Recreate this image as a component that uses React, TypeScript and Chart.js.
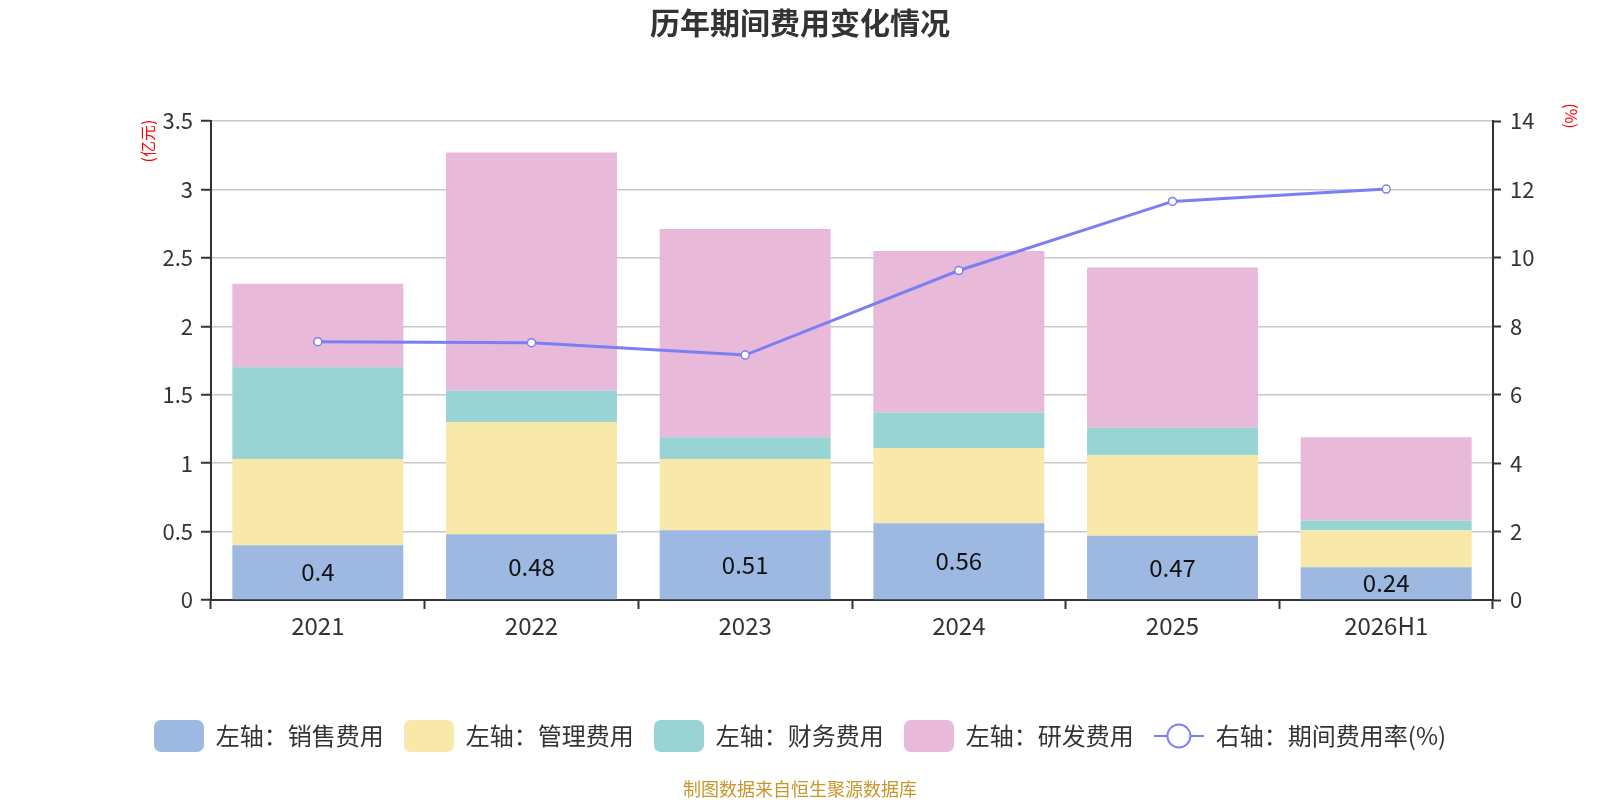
import { useEffect, useRef } from 'react'
import { Chart, registerables } from 'chart.js'

Chart.register(...registerables)

const years = ['2021', '2022', '2023', '2024', '2025', '2026H1']
const salesCost = [0.4, 0.48, 0.51, 0.56, 0.47, 0.24]
const adminCost = [0.63, 0.82, 0.52, 0.55, 0.59, 0.27]
const financeCost = [0.67, 0.23, 0.16, 0.26, 0.2, 0.07]
const rdCost = [0.61, 1.74, 1.52, 1.18, 1.17, 0.61]
const expenseRate = [7.55, 7.52, 7.16, 9.63, 11.65, 12.01]

const FONT = '"Noto Sans CJK SC", "Noto Sans", sans-serif'
const COLORS = ['#9db9e2', '#f8e8a9', '#99d4d4', '#e8b9d9']
const LINE_COLOR = '#7b7ff4'

function makeBoxIcon(color: string) {
  const c = document.createElement('canvas')
  c.width = 50
  c.height = 32
  const ctx = c.getContext('2d') as CanvasRenderingContext2D
  ctx.fillStyle = color
  ctx.beginPath()
  ctx.roundRect(0, 0, 50, 32, 7)
  ctx.fill()
  return c
}

function makeLineIcon() {
  const c = document.createElement('canvas')
  c.width = 50
  c.height = 32
  const ctx = c.getContext('2d') as CanvasRenderingContext2D
  ctx.strokeStyle = LINE_COLOR
  ctx.lineWidth = 2
  ctx.beginPath()
  ctx.moveTo(0, 16)
  ctx.lineTo(50, 16)
  ctx.stroke()
  ctx.beginPath()
  ctx.arc(25, 16, 11.5, 0, Math.PI * 2)
  ctx.fillStyle = '#fff'
  ctx.fill()
  ctx.stroke()
  return c
}

const fmt = (v: any) => parseFloat(Number(v).toFixed(2)).toString()

// 销售费用数值、坐标单位、数据来源
const extrasPlugin = {
  id: 'extras',
  afterDatasetsDraw(chart: any) {
    const ctx = chart.ctx
    const meta = chart.getDatasetMeta(0)
    ctx.save()
    ctx.font = `24px ${FONT}`
    ctx.fillStyle = '#111'
    ctx.textAlign = 'center'
    ctx.textBaseline = 'middle'
    meta.data.forEach((bar: any, i: number) => {
      ctx.fillText(String(salesCost[i]), bar.x, (bar.y + bar.base) / 2)
    })
    ctx.restore()
  },
  afterDraw(chart: any) {
    const ctx = chart.ctx
    ctx.save()
    ctx.fillStyle = '#ff0000'
    ctx.font = `16px ${FONT}`
    ctx.textAlign = 'center'
    ctx.textBaseline = 'middle'
    ctx.translate(148, 141)
    ctx.rotate(-Math.PI / 2)
    ctx.fillText('(亿元)', 0, 0)
    ctx.restore()

    ctx.save()
    ctx.fillStyle = '#ff0000'
    ctx.font = `16px ${FONT}`
    ctx.textAlign = 'center'
    ctx.textBaseline = 'middle'
    ctx.translate(1571, 116)
    ctx.rotate(Math.PI / 2)
    ctx.fillText('(%)', 0, 0)
    ctx.restore()

    ctx.save()
    ctx.fillStyle = '#c8962a'
    ctx.font = `18px ${FONT}`
    ctx.textAlign = 'center'
    ctx.textBaseline = 'middle'
    ctx.fillText('制图数据来自恒生聚源数据库', 800, 789)
    ctx.restore()
  },
}

export default function App() {
  const chartRef = useRef<HTMLCanvasElement>(null)

  useEffect(() => {
    const icons: any[] = [...COLORS.map(makeBoxIcon), makeLineIcon()]
    const barBase = { type: 'bar' as const, yAxisID: 'y', stack: 'cost', order: 1, barPercentage: 1, categoryPercentage: 0.8 }
    const chart = new Chart(chartRef.current as HTMLCanvasElement, {
      data: {
        labels: years,
        datasets: [
          { ...barBase, label: '左轴：销售费用', data: salesCost, backgroundColor: COLORS[0] },
          { ...barBase, label: '左轴：管理费用', data: adminCost, backgroundColor: COLORS[1] },
          { ...barBase, label: '左轴：财务费用', data: financeCost, backgroundColor: COLORS[2] },
          { ...barBase, label: '左轴：研发费用', data: rdCost, backgroundColor: COLORS[3] },
          {
            type: 'line',
            label: '右轴：期间费用率(%)',
            yAxisID: 'y1',
            order: 0,
            data: expenseRate,
            borderColor: LINE_COLOR,
            borderWidth: 3,
            tension: 0,
            pointRadius: 4,
            pointBackgroundColor: '#fff',
            pointBorderColor: LINE_COLOR,
            pointBorderWidth: 1.5,
          },
        ],
      } as any,
      options: {
        animation: false,
        responsive: true,
        maintainAspectRatio: false,
        layout: { padding: { left: 0, right: 0, top: 0, bottom: 42 } },
        scales: {
          x: {
            stacked: true,
            afterFit: (s: any) => {
              s.height = 104
            },
            border: { color: '#333', width: 2 },
            grid: { drawOnChartArea: false, tickColor: '#333', tickLength: 9, tickWidth: 2 },
            ticks: { color: '#333', font: { family: FONT, size: 24 }, padding: 2 },
          },
          y: {
            stacked: true,
            position: 'left',
            min: 0,
            max: 3.5,
            afterFit: (s: any) => {
              s.width = 211
            },
            border: { color: '#333', width: 2 },
            grid: { color: '#c8c8c8', lineWidth: 1.5, tickColor: '#333', tickLength: 10, tickWidth: 2 },
            ticks: { stepSize: 0.5, color: '#333', font: { family: FONT, size: 22 }, padding: 8, callback: fmt },
          },
          y1: {
            position: 'right',
            min: 0,
            max: 14,
            afterFit: (s: any) => {
              s.width = 107
            },
            border: { color: '#333', width: 2 },
            grid: { drawOnChartArea: false, tickColor: '#333', tickLength: 8, tickWidth: 2 },
            ticks: { stepSize: 2, color: '#333', font: { family: FONT, size: 22 }, padding: 9, callback: fmt },
          },
        },
        plugins: {
          title: {
            display: true,
            text: '历年期间费用变化情况',
            color: '#333',
            font: { family: FONT, size: 30, weight: 'bold', lineHeight: 1.2 },
            padding: { top: 5, bottom: 80 },
          },
          legend: {
            position: 'bottom',
            labels: {
              usePointStyle: true,
              pointStyleWidth: 50,
              boxHeight: 32,
              padding: 20,
              color: '#333',
              font: { family: FONT, size: 24 },
              sort: (a: any, b: any) => a.datasetIndex - b.datasetIndex,
              generateLabels: (c: any) => {
                const items = (Chart.defaults.plugins.legend.labels as any).generateLabels(c)
                return items.map((item: any) => ({ ...item, pointStyle: icons[item.datasetIndex], fontColor: '#333' }))
              },
            },
          },
          tooltip: { enabled: false },
        },
      } as any,
      plugins: [extrasPlugin],
    })

    return () => {
      chart.destroy()
    }
  }, [])

  return (
    <div style={{ position: 'absolute', left: 0, top: 0, width: 1600, height: 800 }}>
      <canvas ref={chartRef} />
    </div>
  )
}
